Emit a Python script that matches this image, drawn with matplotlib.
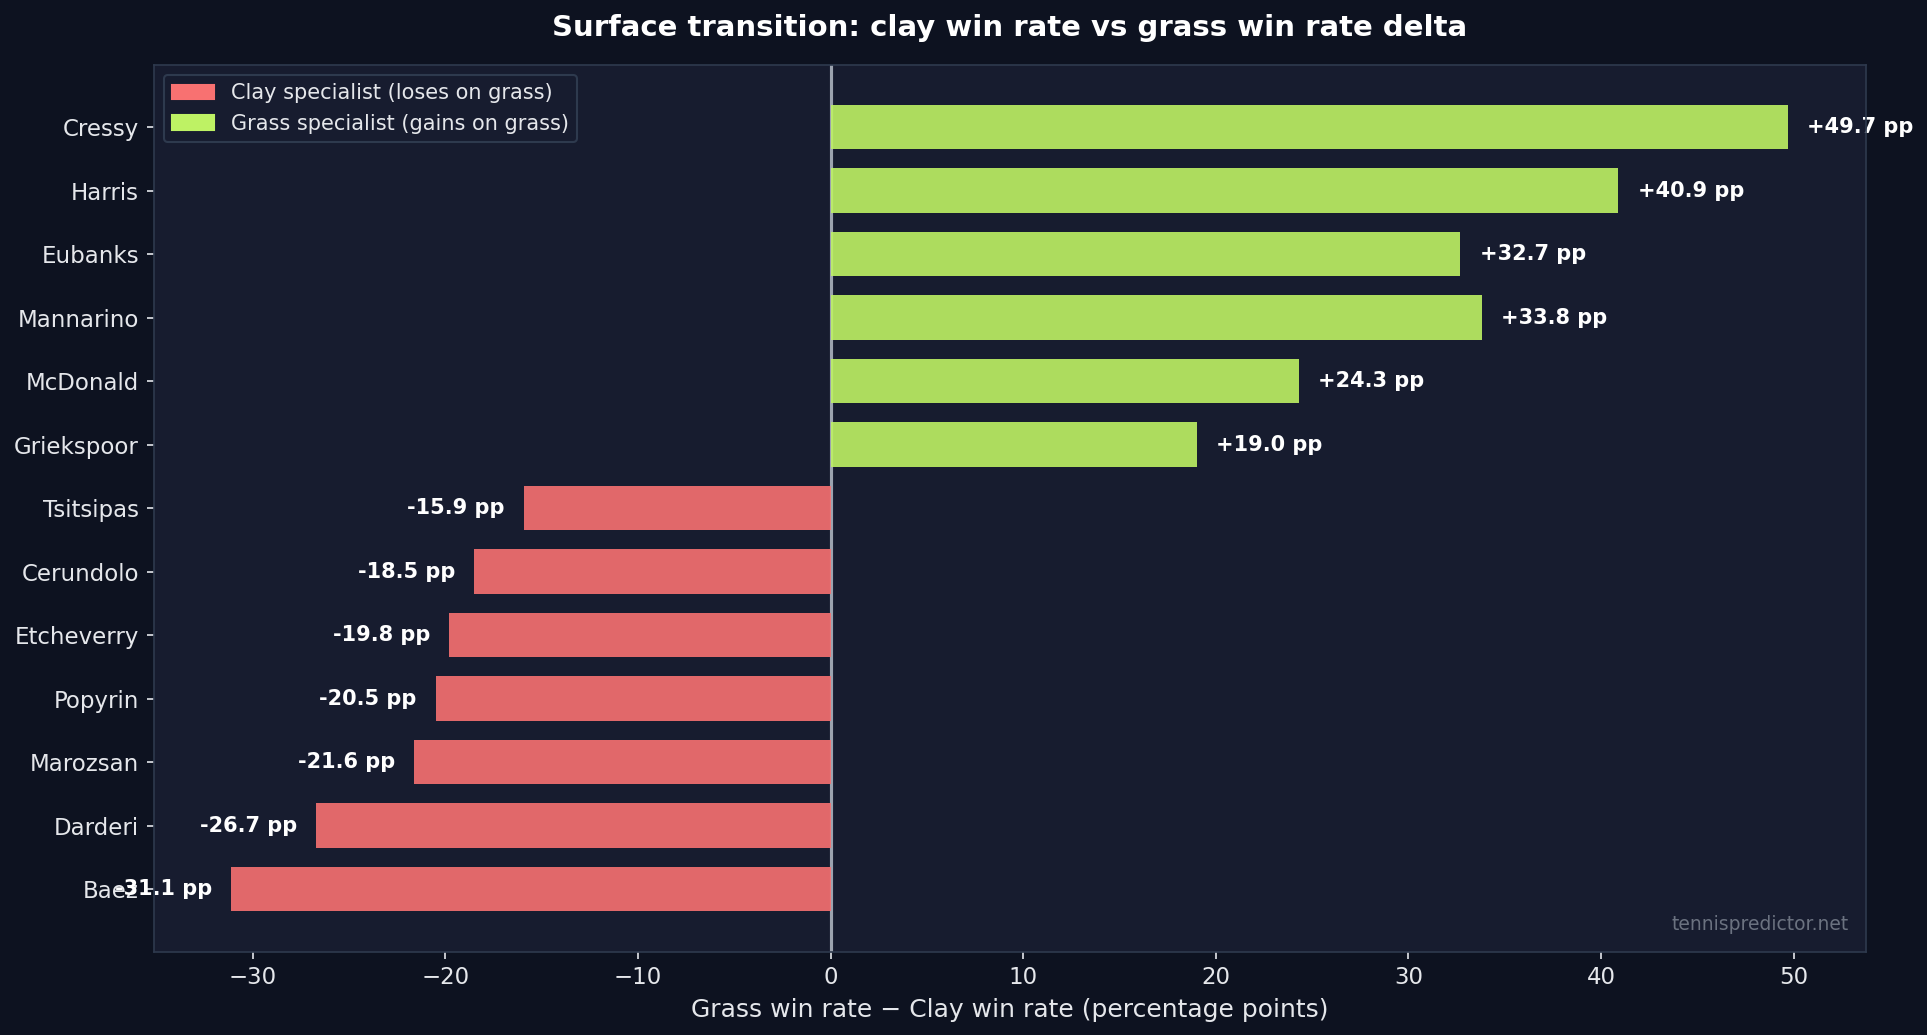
import numpy as np
import matplotlib
matplotlib.use("Agg")
import matplotlib.pyplot as plt
from matplotlib.patches import Patch

# Data
players = ["Cressy", "Harris", "Eubanks", "Mannarino", "McDonald", "Griekspoor",
           "Tsitsipas", "Cerundolo", "Etcheverry", "Popyrin", "Marozsan", "Darderi", "Baez"]
delta = [49.7, 40.9, 32.7, 33.8, 24.3, 19.0,
         -15.9, -18.5, -19.8, -20.5, -21.6, -26.7, -31.1]

BG = "#0d1220"
AX_BG = "#171c2f"
EDGE = "#2e3a4e"
TXT = "#e5e7eb"
CLAY = "#f87171"
GRASS = "#bef264"

fig = plt.figure(figsize=(12.853, 6.9), dpi=150, facecolor=BG)
ax = fig.add_axes([0.0797, 0.0805, 0.888, 0.857])
ax.set_facecolor(AX_BG)

y = np.arange(len(players))
colors = [GRASS if d > 0 else CLAY for d in delta]

ax.axvline(0, color="#9ca3af", lw=1.5, zorder=1)
ax.barh(y, delta, height=0.7, color=colors, alpha=0.9, zorder=2)

for yi, d in zip(y, delta):
    if d > 0:
        ax.text(d + 1.0, yi, f"+{d:.1f} pp", va="center", ha="left",
                color="white", fontsize=10, fontweight="bold", zorder=2.4)
    else:
        ax.text(d - 1.0, yi, f"{d:.1f} pp", va="center", ha="right",
                color="white", fontsize=10, fontweight="bold", zorder=2.4)

ax.set_yticks(y)
ax.set_yticklabels(players)
ax.invert_yaxis()

ax.tick_params(colors=TXT, labelsize=11)
for s in ax.spines.values():
    s.set_color(EDGE)

ax.set_xlabel("Grass win rate \u2212 Clay win rate (percentage points)", color=TXT, fontsize=12)
ax.set_title("Surface transition: clay win rate vs grass win rate delta",
             color="white", fontsize=14, fontweight="bold", pad=14)

handles = [Patch(color=CLAY, label="Clay specialist (loses on grass)"),
           Patch(color=GRASS, label="Grass specialist (gains on grass)")]
leg = ax.legend(handles=handles, loc="upper left", fontsize=10,
                facecolor=AX_BG, edgecolor=EDGE, labelcolor=TXT, framealpha=1)

ax.text(0.99, 0.02, "tennispredictor.net", transform=ax.transAxes,
        ha="right", va="bottom", color="#6b7280", fontsize=9)

fig.savefig("out.png", dpi=150, facecolor=BG)
